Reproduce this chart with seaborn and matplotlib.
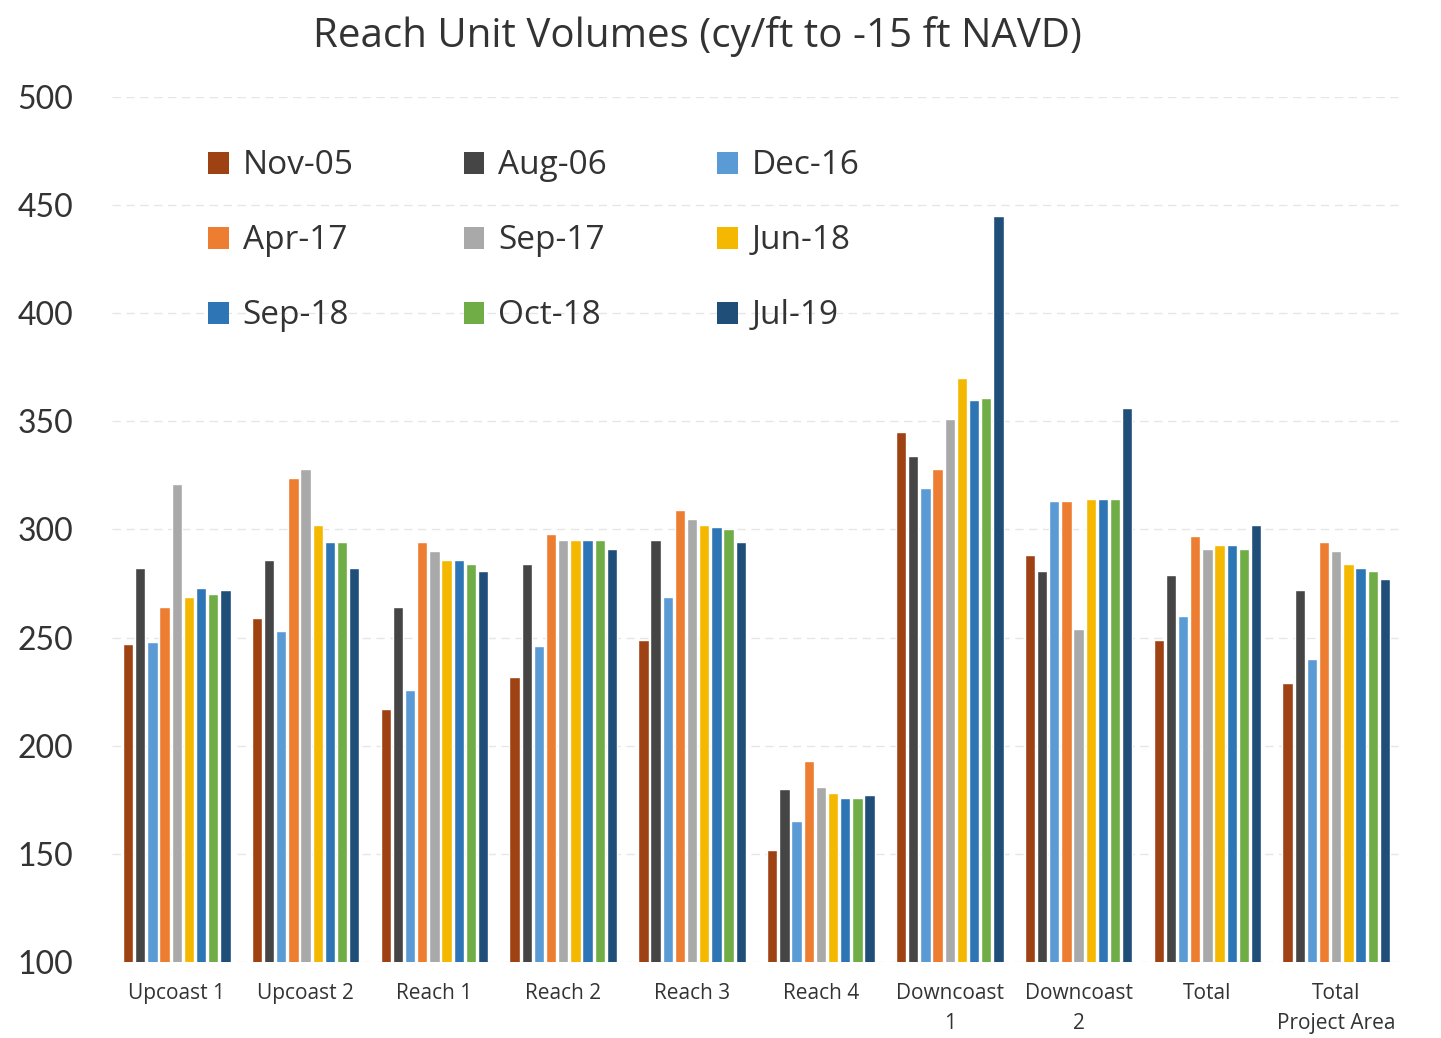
import matplotlib
matplotlib.use("Agg")
import matplotlib.pyplot as plt
from matplotlib.patches import Patch
import seaborn as sns
import pandas as pd

reaches = ["Upcoast 1", "Upcoast 2", "Reach 1", "Reach 2", "Reach 3", "Reach 4",
           "Downcoast\n1", "Downcoast\n2", "Total", "Total\nProject Area"]
surveys = ["Nov-05", "Aug-06", "Dec-16", "Apr-17", "Sep-17", "Jun-18", "Sep-18", "Oct-18", "Jul-19"]

nov05 = [247, 259, 217, 232, 249, 152, 345, 288, 249, 229]
aug06 = [282, 286, 264, 284, 295, 180, 334, 281, 279, 272]
dec16 = [248, 253, 226, 246, 269, 165, 319, 313, 260, 240]
apr17 = [264, 324, 294, 298, 309, 193, 328, 313, 297, 294]
sep17 = [321, 328, 290, 295, 305, 181, 351, 254, 291, 290]
jun18 = [269, 302, 286, 295, 302, 178, 370, 314, 293, 284]
sep18 = [273, 294, 286, 295, 301, 176, 360, 314, 293, 282]
oct18 = [270, 294, 284, 295, 300, 176, 361, 314, 291, 281]
jul19 = [272, 282, 281, 291, 294, 177, 445, 356, 302, 277]

series = [nov05, aug06, dec16, apr17, sep17, jun18, sep18, oct18, jul19]
colors = ["#9E4214", "#454545", "#5B9BD5", "#ED7D31", "#A9A9A9",
          "#F5B800", "#2E75B6", "#70AD47", "#1F4E79"]

rows = []
for s, vals in zip(surveys, series):
    for r, v in zip(reaches, vals):
        rows.append({"Reach": r, "Survey": s, "Volume": v})
df = pd.DataFrame(rows)

sns.set_theme(style="white")
plt.rcParams["font.family"] = ["Open Sans", "DejaVu Sans"]

fig = plt.figure(figsize=(14.41, 10.38), dpi=100)
ax = fig.add_axes([0.078, 0.0732, 0.894, 0.8334])

sns.barplot(data=df, x="Reach", y="Volume", hue="Survey", order=reaches,
            hue_order=surveys, palette=colors, width=0.85, gap=0.15,
            saturation=1, ax=ax, legend=False)

ax.set_ylim(100, 500)
ax.set_yticks(range(100, 501, 50))
ax.yaxis.grid(True, color="#e6e6e6", linewidth=1, linestyle=(0, (6, 4)))
ax.set_axisbelow(True)
for sp in ax.spines.values():
    sp.set_visible(False)
ax.set_xlabel("")
ax.set_ylabel("")
ax.tick_params(axis="y", length=0, pad=28, labelsize=23, labelcolor="#333333")
ax.tick_params(axis="x", length=0, pad=15, labelsize=15, labelcolor="#333333")
for lab in ax.get_yticklabels():
    lab.set_fontfamily(["Lato", "DejaVu Sans"])
for lab in ax.get_xticklabels():
    lab.set_linespacing(1.6)

fig.suptitle("Reach Unit Volumes (cy/ft to -15 ft NAVD)", x=0.484, y=0.985,
             fontsize=29, color="#333333", fontfamily=["Open Sans", "DejaVu Sans"])

# legend: row-major display with 3 columns
order = [0, 3, 6, 1, 4, 7, 2, 5, 8]
handles = [Patch(facecolor=colors[i], edgecolor="none") for i in order]
labels = [surveys[i] for i in order]
leg = ax.legend(handles, labels, ncol=3, loc="upper left",
                bbox_to_anchor=(0.051, 0.974), frameon=False,
                handlelength=0.62, handleheight=0.62,
                handletextpad=0.42, columnspacing=3.3, labelspacing=1.26,
                prop={"family": ["Open Sans", "DejaVu Sans"], "size": 24})
for t in leg.get_texts():
    t.set_color("#333333")

fig.savefig("out.png", dpi=100)
